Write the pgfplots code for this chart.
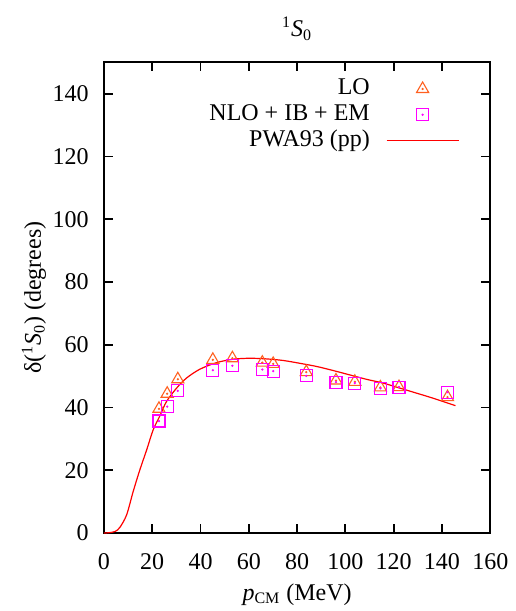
\documentclass[border=0pt]{standalone}
\usepackage{fontspec}
\setmainfont{LiberationSerif}[Extension=.ttf, UprightFont=*-Regular, ItalicFont=*-Italic, BoldFont=*-Bold, BoldItalicFont=*-BoldItalic]
\usepackage{pgfplots}
\usepackage{pgfplotstable}
\pgfplotsset{compat=1.18}
\definecolor{lo}{RGB}{255,96,32}
\definecolor{nlo}{RGB}{255,0,255}
\pgfplotsset{
  marklegend/.style={legend image code/.code={\path (0pt,0pt) (36pt,0pt); \draw[##1] plot coordinates {(18pt,0pt)}; \fill[#1] (18pt,0pt) circle (0.35pt);}},
  linelegend/.style={legend image code/.code={\draw[##1] (0pt,0pt) -- (36pt,0pt);}},
}
\pgfplotstableread{
x y
22.8 39.6
26.2 44.4
30.6 49.0
45.1 55.2
53.2 55.7
65.6 54.3
70.1 53.9
83.8 51.3
96.1 48.6
103.9 48.2
114.5 46.4
122.2 46.5
142.3 43.3
}\lodata
\pgfplotstableread{
x y
22.8 35.7
26.2 40.3
30.6 45.3
45.1 51.9
53.2 53.3
65.6 52.1
70.1 51.6
83.8 50.1
96.1 48.1
103.9 47.8
114.5 46.1
122.2 46.5
142.3 44.9
}\nlodata
\pgfplotstableread{
x y
0.0 0.0
2.0 0.1
4.6 0.5
6.6 1.8
9.4 5.8
12.1 13.2
14.9 20.2
17.7 26.5
20.4 32.9
23.2 37.4
25.9 41.9
30.1 46.2
34.2 49.4
39.7 52.2
46.6 54.3
53.5 55.4
60.4 55.7
67.3 55.5
74.2 55.0
81.1 54.1
88.0 53.1
94.9 51.8
101.8 50.4
108.7 49.0
115.6 47.8
122.5 46.2
129.4 44.6
136.2 43.0
145.6 40.6
}\pwadata
\begin{document}
\fontsize{12}{14}\selectfont
\begin{tikzpicture}
\begin{axis}[name=ax, scale only axis, width=193.3pt, height=235.5pt,
  xmin=0, xmax=160, ymin=0, ymax=150,
  xtick={0,20,...,160}, ytick={0,20,...,140},
  tick align=inside, major tick length=4.5pt,
  axis line style={line width=0.9pt},
  every tick/.style={black, line width=0.9pt},
  /pgf/number format/assume math mode=true,
  ticklabel style={font=\fontsize{12}{14}\selectfont},
  xticklabel style={yshift=-6pt}, yticklabel style={xshift=-3.5pt},
  every axis title shift=0pt,
  title={\textsuperscript{1}\textit{S}\textsubscript{0}},
  title style={at={(axis description cs:0.5,1.055)}, anchor=base},
  xlabel={\textit{p}\textsubscript{CM} (MeV)},
  xlabel style={at={(axis description cs:0.5,-0.1426)}, anchor=base},
  ylabel={δ(\textsuperscript{1}\textit{S}\textsubscript{0}) (degrees)},
  ylabel style={at={(axis description cs:-0.163,0.5)}, anchor=base},
  legend plot pos=right,
  legend cell align=right,
  legend style={draw=none, fill=none, at={(axis description cs:0.9206,0.9677)}, anchor=north east,
    inner sep=0pt, row sep=1.9pt, column sep=8.15pt,
    nodes={font=\fontsize{12}{14}\selectfont, text height=8.5pt, text depth=2.5pt, inner sep=0pt}},
]
\addplot[only marks, color=lo, mark=triangle, mark size=3.5pt, mark options={line width=0.55pt}, marklegend=lo]
  table[x=x,y=y]{\lodata};
\addlegendentry{LO}
\addplot[only marks, color=nlo, mark=square, mark size=3pt, mark options={line width=0.55pt}, marklegend=nlo]
  table[x=x,y=y]{\nlodata};
\addlegendentry{NLO + IB + EM}
\addplot[color=red, line width=0.6pt, no marks, smooth, linelegend]
  table[x=x,y=y]{\pwadata};
\addlegendentry{PWA93 (pp)}
\addplot[only marks, forget plot, color=lo, mark=*, mark size=0.35pt] table[x=x,y=y]{\lodata};
\addplot[only marks, forget plot, color=nlo, mark=*, mark size=0.35pt] table[x=x,y=y]{\nlodata};
\end{axis}
\pgfresetboundingbox
\path[use as bounding box] ([shift={(-52pt,-39pt)}]ax.south west) rectangle ([shift={(12.5pt,31.2pt)}]ax.north east);
\end{tikzpicture}
\end{document}
